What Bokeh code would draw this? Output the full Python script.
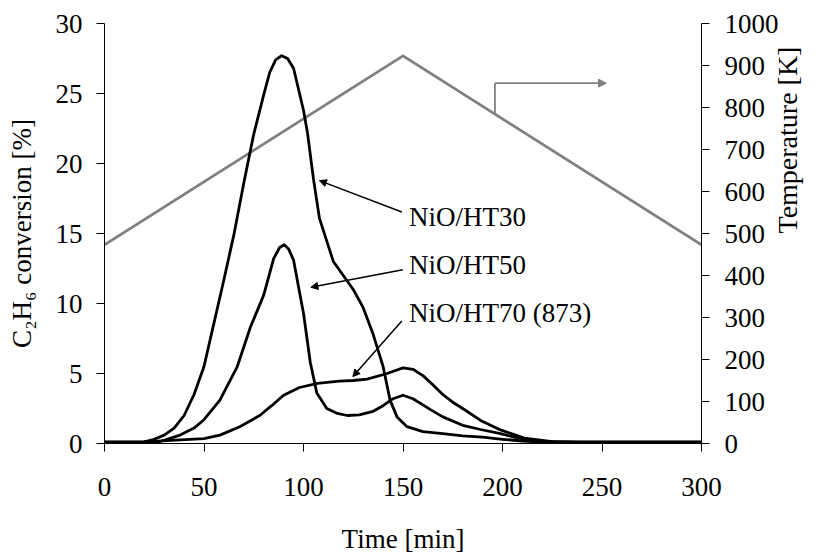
import math
from bokeh.plotting import figure
from bokeh.models import Range1d, LinearAxis, FixedTicker, Arrow, NormalHead, Label
from bokeh.embed import file_html
from bokeh.resources import INLINE

# ---------------- data ----------------
time_ht30 = [0, 10, 20, 25, 30, 35, 40, 45, 50, 55, 60, 65, 70, 75, 80, 83, 86, 89, 92, 95,
             100, 102, 105, 108, 110, 115, 120, 125, 130, 135, 140, 143.5, 147, 152, 160,
             170, 180, 190, 200, 210, 220, 250, 300]
conv_ht30 = [0.1, 0.1, 0.12, 0.3, 0.6, 1.1, 2.0, 3.5, 5.5, 8.6, 11.7, 14.9, 18.6, 22.1, 24.9,
             26.5, 27.4, 27.7, 27.5, 26.8, 23.8, 22.2, 18.9, 16.1, 15.2, 13.0, 12.0, 11.0,
             9.7, 7.8, 5.5, 3.1, 1.9, 1.2, 0.85, 0.7, 0.55, 0.45, 0.3, 0.18, 0.1, 0.1, 0.1]

time_ht50 = [0, 20, 28, 38, 45, 50, 58, 66.6, 73.3, 80, 85, 88, 90.3, 92.5, 95, 98, 100, 103.4,
             106.7, 111.7, 117, 122, 128, 135, 140, 145, 150, 155, 159, 164, 170, 180, 189,
             199, 208, 220, 235, 300]
conv_ht50 = [0.1, 0.1, 0.14, 0.6, 1.1, 1.7, 3.1, 5.45, 8.3, 10.6, 13.2, 14.0, 14.2, 13.9, 13.1,
             10.8, 9.3, 5.8, 3.6, 2.5, 2.15, 2.0, 2.05, 2.3, 2.7, 3.2, 3.45, 3.2, 2.85, 2.4,
             1.9, 1.3, 1.0, 0.7, 0.38, 0.15, 0.1, 0.1]

time_ht70 = [0, 20, 38, 50, 58, 68, 78, 84, 90, 98, 107, 118, 125, 132, 142, 150, 155, 160,
             165, 170, 175, 180, 189, 199, 211, 225, 240, 300]
conv_ht70 = [0.1, 0.12, 0.26, 0.35, 0.6, 1.2, 2.0, 2.7, 3.45, 4.0, 4.3, 4.45, 4.5, 4.6, 5.0,
             5.4, 5.3, 4.85, 4.2, 3.5, 2.95, 2.5, 1.65, 0.97, 0.38, 0.14, 0.1, 0.1]

temp_time = [0, 150, 300]
temp_k = [473, 923, 473]

x_ticks = [0, 50, 100, 150, 200, 250, 300]
left_ticks = [0, 5, 10, 15, 20, 25, 30]
right_ticks = [0, 100, 200, 300, 400, 500, 600, 700, 800, 900, 1000]

series_names = ["NiO/HT30", "NiO/HT50", "NiO/HT70 (873)"]

# annotation placement (data units of the left axis)
label_x = [153, 153, 153]
label_y = [16.2, 12.76, 9.3]
arrow_tail_x = [149.4, 149.9, 149.4]
arrow_tail_y = [16.54, 12.41, 8.75]
arrow_head_x = [108.0, 103.7, 124.8]
arrow_head_y = [18.78, 11.16, 4.78]

# temperature pointer (right-axis units)
temp_ptr_x = [196.2, 196.2, 252.2]
temp_ptr_y = [783, 858, 858]

FONT = "Liberation Serif"
FS = "27px"

p = figure(width=821, height=556, x_range=Range1d(0, 300), y_range=Range1d(0, 30),
           output_backend="svg", toolbar_location=None,
           min_border_left=104, min_border_right=119, min_border_top=23,
           min_border_bottom=109)
p.extra_y_ranges = {"temp": Range1d(0, 1000)}
p.xgrid.visible = False
p.ygrid.visible = False
p.outline_line_color = None
p.background_fill_color = "white"
p.border_fill_color = "white"

right_axis = LinearAxis(y_range_name="temp")
p.add_layout(right_axis, "right")

p.xaxis[0].ticker = FixedTicker(ticks=x_ticks)
p.yaxis[0].ticker = FixedTicker(ticks=left_ticks)
right_axis.ticker = FixedTicker(ticks=right_ticks)

for ax in [p.xaxis[0], p.yaxis[0], right_axis]:
    ax.major_tick_out = 8
    ax.major_tick_in = 0
    ax.minor_tick_out = 0
    ax.minor_tick_in = 0
    ax.axis_line_color = "black"
    ax.axis_line_width = 1
    ax.major_tick_line_color = "black"
    ax.major_label_text_font = FONT
    ax.major_label_text_font_size = FS
    ax.major_label_text_color = "black"
    ax.axis_label_text_font = FONT
    ax.axis_label_text_font_size = FS
    ax.axis_label_text_font_style = "normal"
    ax.axis_label_text_color = "black"

p.yaxis[0].major_label_standoff = 14
right_axis.major_label_standoff = 15
p.xaxis[0].major_label_standoff = 26

p.xaxis[0].axis_label = "Time [min]"
p.xaxis[0].axis_label_standoff = 25
p.yaxis[0].axis_label = "C\u2082H\u2086 conversion [%]"
p.yaxis[0].axis_label_standoff = 16

# second (bare) right axis that only carries the temperature title (reads bottom-to-top)
title_axis = LinearAxis(y_range_name="temp",
                        ticker=FixedTicker(ticks=[]), axis_line_color=None,
                        major_tick_line_color=None, minor_tick_line_color=None,
                        major_tick_out=0, major_tick_in=0, minor_tick_out=0,
                        minor_tick_in=0, major_label_text_font_size="0px",
                        axis_label="Temperature [K]", axis_label_standoff=6,
                        axis_label_text_font=FONT, axis_label_text_font_size="28px",
                        axis_label_text_font_style="normal",
                        axis_label_text_color="black")
try:
    title_axis.axis_label_orientation = math.pi / 2
except Exception:
    pass
p.add_layout(title_axis, "right")

# temperature ramp
p.line(temp_time, temp_k, y_range_name="temp", line_color="#808080", line_width=2.8)

# conversion curves
for t, c in [(time_ht30, conv_ht30), (time_ht50, conv_ht50), (time_ht70, conv_ht70)]:
    p.line(t, c, line_color="black", line_width=2.8, line_join="round")

# labels and arrows
for name, lx, ly, tx, ty, hx, hy in zip(series_names, label_x, label_y,
                                        arrow_tail_x, arrow_tail_y,
                                        arrow_head_x, arrow_head_y):
    p.add_layout(Label(x=lx, y=ly, text=name, text_align="left", text_baseline="middle",
                       text_font=FONT, text_font_size=FS, text_color="black"))
    p.add_layout(Arrow(x_start=tx, y_start=ty, x_end=hx, y_end=hy, line_color="black",
                       line_width=1.5,
                       end=NormalHead(size=7, fill_color="black", line_color="black",
                                      line_width=1)))

# temperature pointer
p.line(temp_ptr_x[:2], temp_ptr_y[:2], y_range_name="temp", line_color="#808080",
       line_width=1.8)
p.add_layout(Arrow(x_start=temp_ptr_x[1], y_start=temp_ptr_y[1], x_end=temp_ptr_x[2],
                   y_end=temp_ptr_y[2], y_range_name="temp", line_color="#808080",
                   line_width=1.8,
                   end=NormalHead(size=8, fill_color="#808080", line_color="#808080",
                                  line_width=1)))

open("out.html", "w").write(file_html(p, INLINE))
